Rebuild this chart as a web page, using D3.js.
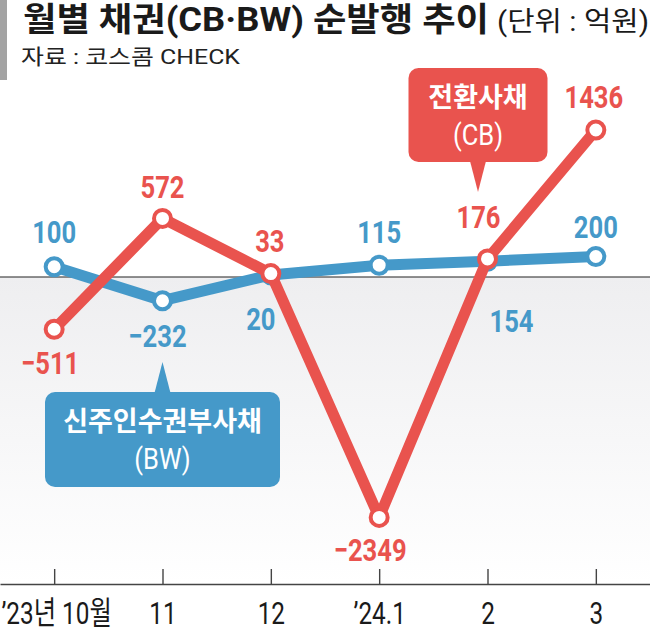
<!DOCTYPE html>
<html>
<head>
<meta charset="utf-8">
<script src="https://cdn.jsdelivr.net/npm/d3@7"></script>
<style>
  html, body { margin: 0; padding: 0; background: #fff; }
  svg { display: block; }
</style>
</head>
<body>
<svg id="chart" width="650" height="632"></svg>
<script>
// 월별 채권 순발행 (단위 : 억원)
const months = [ '’23년 10월', '11', '12', '’24.1', '2', '3' ]
const cbValues = [ -511, 572, 33, -2349, 176, 1436 ]
const bwValues = [ 100, -232, 20, 115, 154, 200 ]

// label placement relative to its point: [dx, dy]
const cbLabelOffset = [ [ -4, 45 ], [ 0, -20 ], [ -1, -22 ], [ -9, 44 ], [ -9, -31 ], [ -2, -22 ] ]
const bwLabelOffset = [ [ 0, -24 ], [ -5, 46 ], [ -10, 55 ], [ 0, -22 ], [ 24, 71 ], [ 0, -19 ] ]

const width = 650,
      height = 632,
      red = '#e9534e',
      blue = '#4599c9',
      numFont = 'Roboto, "Noto Sans CJK KR", sans-serif',
      krFont = '"Noto Sans CJK KR", sans-serif',
      squeeze = 0.8

const svg = d3.select( '#chart' )

const x = d3.scalePoint().domain( months ).range( [ 0, width ] ).padding( 0.5 )
const y = d3.scaleLinear().domain( [ -3000, 1700 ] ).range( [ 584, 103 ] )

const fmt = v => v < 0 ? '\u2212' + Math.abs( v ) : String( v )

// header
svg.append( 'rect' ).attr( 'x', 0 ).attr( 'y', 0 ).attr( 'width', 7 ).attr( 'height', 80 ).attr( 'fill', '#a3a3a3' )

svg.append( 'text' )
    .attr( 'x', 23 ).attr( 'y', 31 )
    .attr( 'font-family', numFont ).attr( 'font-weight', 700 ).attr( 'font-size', 33 )
    .attr( 'fill', '#1a1a1a' )
    .attr( 'textLength', 466 ).attr( 'lengthAdjust', 'spacingAndGlyphs' )
    .text( '월별 채권(CB·BW) 순발행 추이' )

svg.append( 'text' )
    .attr( 'x', 649 ).attr( 'y', 31 )
    .attr( 'text-anchor', 'end' )
    .attr( 'font-family', numFont ).attr( 'font-size', 27 )
    .attr( 'fill', '#1a1a1a' )
    .attr( 'textLength', 152 ).attr( 'lengthAdjust', 'spacingAndGlyphs' )
    .text( '(단위 : 억원)' )

svg.append( 'text' )
    .attr( 'x', 21 ).attr( 'y', 64 )
    .attr( 'font-family', numFont ).attr( 'font-size', 21 )
    .attr( 'fill', '#222' )
    .attr( 'textLength', 219 ).attr( 'lengthAdjust', 'spacingAndGlyphs' )
    .text( '자료 : 코스콤 CHECK' )

// shaded area below zero
const grad = svg.append( 'defs' ).append( 'linearGradient' )
    .attr( 'id', 'below' ).attr( 'x1', 0 ).attr( 'y1', 0 ).attr( 'x2', 0 ).attr( 'y2', 1 )
grad.append( 'stop' ).attr( 'offset', '0%' ).attr( 'stop-color', '#eeeef0' )
grad.append( 'stop' ).attr( 'offset', '100%' ).attr( 'stop-color', '#ffffff' )

svg.append( 'rect' )
    .attr( 'x', 0 ).attr( 'y', y( 0 ) )
    .attr( 'width', width ).attr( 'height', y( -3000 ) - y( 0 ) )
    .attr( 'fill', 'url(#below)' )

svg.append( 'line' )
    .attr( 'x1', 0 ).attr( 'x2', width )
    .attr( 'y1', y( 0 ) ).attr( 'y2', y( 0 ) )
    .attr( 'stroke', '#222' ).attr( 'stroke-width', 1.2 )

// x axis
const axis = svg.append( 'g' )
    .attr( 'transform', `translate(0, ${ y( -3000 ) })` )
    .call( d3.axisBottom( x ).tickSizeInner( -15 ).tickSizeOuter( 0 ).tickPadding( 40 ) )

axis.select( '.domain' ).attr( 'stroke', '#444' ).attr( 'stroke-width', 1.6 )
axis.selectAll( '.tick line' ).attr( 'stroke', '#444' ).attr( 'stroke-width', 1.4 )
axis.selectAll( '.tick text' )
    .attr( 'dy', 0 ).attr( 'y', 40 )
    .attr( 'font-family', numFont ).attr( 'font-size', 32 )
    .attr( 'fill', '#1a1a1a' )
    .attr( 'transform', 'scale(0.76,1)' )
axis.selectAll( '.tick text' ).filter( ( d, i ) => i === 0 )
    .attr( 'text-anchor', 'start' )
    .attr( 'x', ( 1 - x( months[0] ) ) / 0.76 )

// one series: line, circles, value labels
function drawSeries( values, offsets, color ) {
    const pts = values.map( ( v, i ) => [ x( months[i] ), y( v ) ] )
    const g = svg.append( 'g' )

    g.append( 'path' )
        .attr( 'd', d3.line()( pts ) )
        .attr( 'fill', 'none' )
        .attr( 'stroke', color )
        .attr( 'stroke-width', 11 )
        .attr( 'stroke-linejoin', 'round' )

    g.selectAll( 'circle' ).data( pts ).join( 'circle' )
        .attr( 'cx', d => d[0] ).attr( 'cy', d => d[1] )
        .attr( 'r', 8.5 )
        .attr( 'fill', '#fff' )
        .attr( 'stroke', color ).attr( 'stroke-width', 4 )

    g.selectAll( 'g.lbl' ).data( values ).join( 'g' )
        .attr( 'class', 'lbl' )
        .attr( 'transform', ( v, i ) => `translate(${ pts[i][0] + offsets[i][0] }, ${ pts[i][1] + offsets[i][1] })` )
        .append( 'text' )
        .attr( 'text-anchor', 'middle' )
        .attr( 'transform', `scale(${ squeeze },1)` )
        .attr( 'font-family', numFont ).attr( 'font-weight', 700 ).attr( 'font-size', 32 )
        .attr( 'fill', color )
        .text( fmt )
}

drawSeries( bwValues, bwLabelOffset, blue )
drawSeries( cbValues, cbLabelOffset, red )

// callout boxes
function callout( cx, top, w, h, tipY, color, title, sub ) {
    const g = svg.append( 'g' )
    const left = cx - w / 2,
          bottom = top + h,
          tipUp = tipY < top

    g.append( 'rect' )
        .attr( 'x', left ).attr( 'y', top )
        .attr( 'width', w ).attr( 'height', h )
        .attr( 'rx', 10 )
        .attr( 'fill', color )

    const baseY = tipUp ? top + 1 : bottom - 1
    g.append( 'path' )
        .attr( 'd', `M${ cx - 8 },${ baseY } L${ cx },${ tipY } L${ cx + 8 },${ baseY } Z` )
        .attr( 'fill', color )

    g.append( 'text' )
        .attr( 'x', cx ).attr( 'y', top + 39 )
        .attr( 'text-anchor', 'middle' )
        .attr( 'font-family', krFont ).attr( 'font-weight', 700 ).attr( 'font-size', 27 )
        .attr( 'fill', '#fff' )
        .text( title )

    g.append( 'g' )
        .attr( 'transform', `translate(${ cx }, ${ top + 77 })` )
        .append( 'text' )
        .attr( 'text-anchor', 'middle' )
        .attr( 'transform', 'scale(0.85,1)' )
        .attr( 'font-family', numFont ).attr( 'font-size', 30 )
        .attr( 'fill', '#fff' )
        .text( sub )
}

callout( x( months[4] ) - 9.5, 68, 139, 94, 192, red, '전환사채', '(CB)' )
callout( x( months[1] ), 392, 235, 95, 362, blue, '신주인수권부사채', '(BW)' )
</script>
</body>
</html>
